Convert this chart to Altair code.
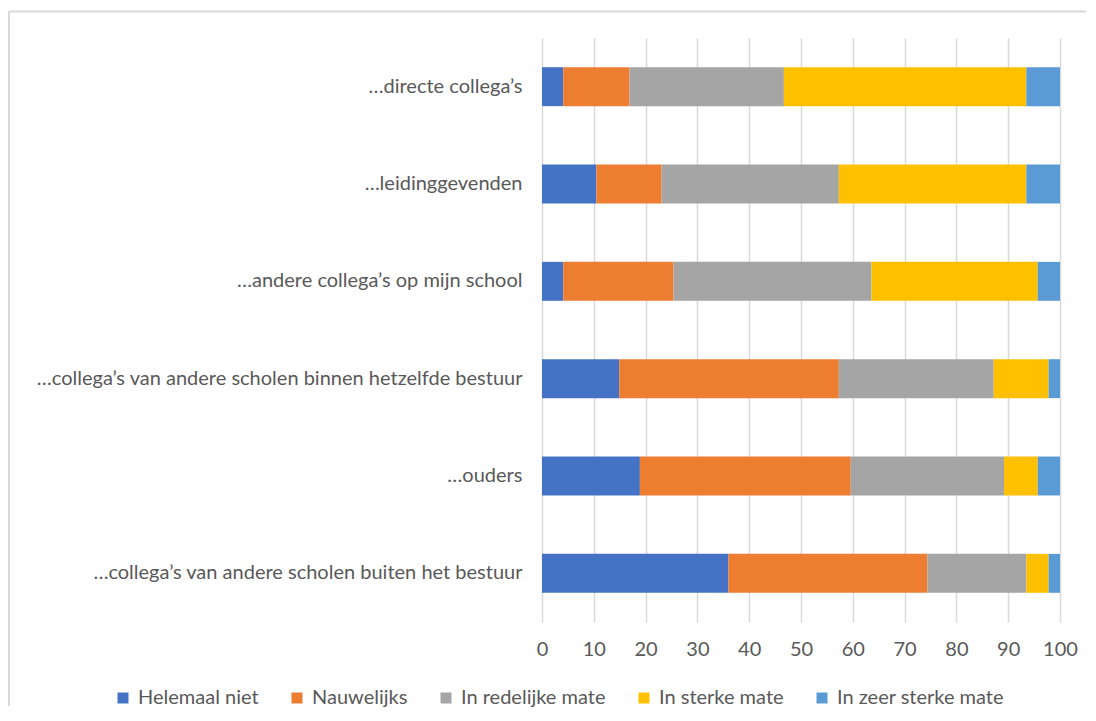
import altair as alt
import pandas as pd

categories = [
    "…directe collega’s",
    "…leidinggevenden",
    "…andere collega’s op mijn school",
    "…collega’s van andere scholen binnen hetzelfde bestuur",
    "…ouders",
    "…collega’s van andere scholen buiten het bestuur",
]
series = ["Helemaal niet", "Nauwelijks", "In redelijke mate", "In sterke mate", "In zeer sterke mate"]
helemaal_niet = [4.1, 10.5, 4.1, 14.9, 18.9, 36.0]
nauwelijks = [12.8, 12.6, 21.3, 42.4, 40.7, 38.4]
redelijke = [29.8, 34.2, 38.2, 29.9, 29.6, 19.1]
sterke = [46.8, 36.2, 32.1, 10.6, 6.5, 4.3]
zeer_sterke = [6.5, 6.5, 4.3, 2.2, 4.3, 2.2]
colors = ["#4472C4", "#ED7D31", "#A5A5A5", "#FFC000", "#5B9BD5"]
x_ticks = list(range(0, 101, 10))

rows = []
for vals, s_idx in zip([helemaal_niet, nauwelijks, redelijke, sterke, zeer_sterke], range(5)):
    for c, v in zip(categories, vals):
        rows.append({"cat": c, "series": series[s_idx], "order": s_idx, "value": v})
df = pd.DataFrame(rows)

FONT = "Lato"
TXT = "#595959"
FS = 20

bars = alt.Chart(df).mark_bar().encode(
    y=alt.Y("cat:N", sort=categories, title=None,
            scale=alt.Scale(paddingInner=0.6, paddingOuter=0.3),
            axis=alt.Axis(labelFontSize=FS, labelColor=TXT, labelFont=FONT, ticks=False,
                          domain=False, labelPadding=20, labelLimit=0, grid=False)),
    x=alt.X("value:Q", stack="zero", title=None,
            scale=alt.Scale(domain=[0, 100], nice=False),
            axis=alt.Axis(values=x_ticks, labelFontSize=FS, labelColor=TXT, labelFont=FONT,
                          ticks=False, domain=False, grid=True, gridColor="#D9D9D9",
                          gridWidth=1.5, labelPadding=17, labelFlush=False)),
    color=alt.Color("series:N", sort=series,
                    scale=alt.Scale(domain=series, range=colors),
                    legend=alt.Legend(title=None, orient="none", direction="horizontal",
                                      legendX=-429, legendY=650, symbolType="square",
                                      symbolSize=121, symbolStrokeWidth=0, labelFontSize=FS,
                                      labelFont=FONT, labelColor=TXT, labelOffset=5,
                                      labelLimit=0, columnPadding=28)),
    order=alt.Order("order:Q"),
)

one = pd.DataFrame({"a": [0]})
top_line = alt.Chart(one).mark_rule(stroke="#D9D9D9", strokeWidth=2).encode(
    x=alt.value(-533), x2=alt.value(544), y=alt.value(-26.5),
)
left_line = alt.Chart(one).mark_rule(stroke="#D9D9D9", strokeWidth=2).encode(
    x=alt.value(-533), y=alt.value(-26.5), y2=alt.value(668),
)

chart = alt.layer(top_line, left_line, bars).properties(
    width=518, height=584, padding={"left": 0, "top": 2, "right": 0, "bottom": 0}
).configure_view(stroke=None)

chart.save("out.html", embed_options={"renderer": "svg", "actions": False})
